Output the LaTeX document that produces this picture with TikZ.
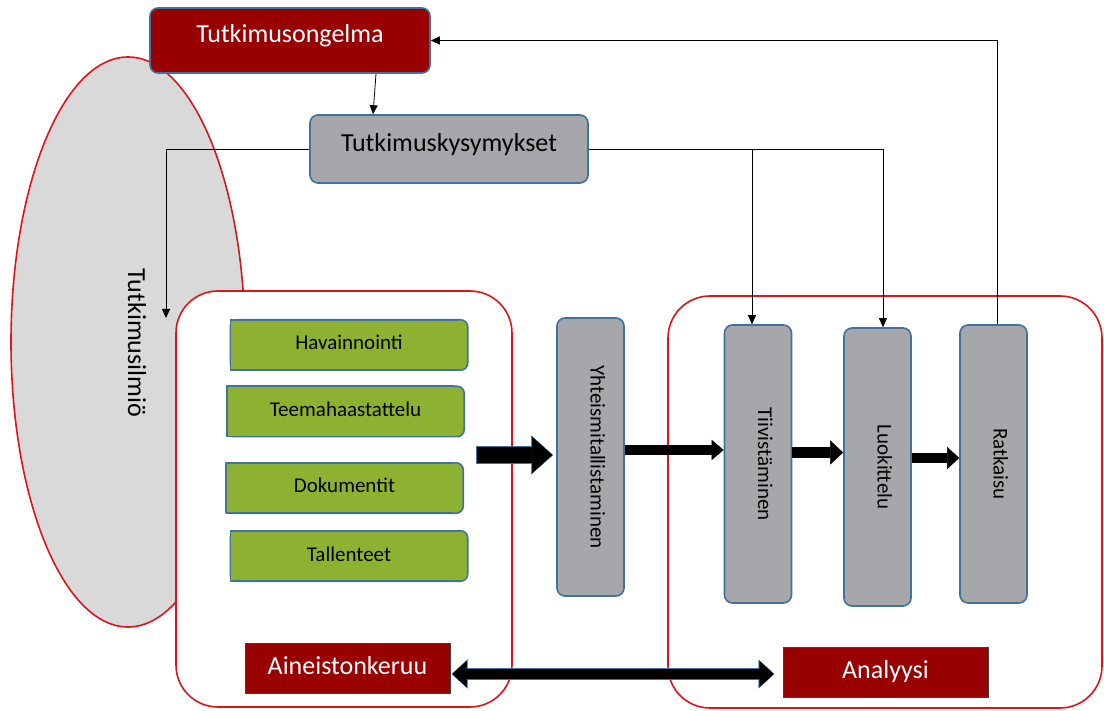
\documentclass[tikz,border=0pt]{standalone}
\usepackage{graphicx}
\usepackage{fontspec}
\setmainfont{Carlito}
\usepackage{tikz}
\usetikzlibrary{arrows.meta, shapes.geometric, positioning, calc, backgrounds}

\definecolor{tutkred}   {RGB}{153, 0,   0}
\definecolor{edgeblue}  {RGB}{65,  113, 156}
\definecolor{stepgray}  {RGB}{166, 167, 171}
\definecolor{methgreen} {RGB}{141, 178, 50}
\definecolor{ilmiogray} {RGB}{217, 217, 217}
\definecolor{grpred}    {RGB}{218, 22,  28}
\definecolor{labeledge} {RGB}{64,  64,  64}

\newcommand{\pysty}[1]{\rotatebox{-90}{\raisebox{0pt}[13pt][13pt]{#1}}}

\begin{document}
\begin{tikzpicture}[x=1pt, y=-1pt,
	ilmio/.style={ellipse, draw=grpred, fill=ilmiogray, line width=1.6pt, inner sep=0pt, minimum width=234pt, minimum height=570pt},
	groupbox/.style={draw=grpred, fill=white, line width=1.6pt, rounded corners=42pt, inner sep=0pt},
	titlebox/.style={draw=edgeblue, line width=1.6pt, rounded corners=8pt, minimum width=280pt, minimum height=65pt, text height=19pt, text depth=14pt, font=\fontsize{26pt}{30pt}\selectfont},
	methodbox/.style={inner sep=0pt, minimum width=237pt, minimum height=50pt, text height=15pt, text depth=5pt, font=\fontsize{21pt}{25pt}\selectfont},
	methodshape/.style={fill=methgreen, draw=edgeblue, line width=1.6pt, line join=round},
	stepbox/.style={draw=edgeblue, fill=stepgray, line width=1.6pt, rounded corners=8pt, inner sep=0pt, minimum width=67pt, minimum height=278pt, font=\fontsize{21pt}{25pt}\selectfont},
	labelbox/.style={draw=labeledge, fill=tutkred, text=white, line width=1pt, inner sep=0pt, minimum width=205pt, minimum height=50pt, text height=17pt, text depth=5pt, font=\fontsize{26pt}{30pt}\selectfont},
	ohut/.style={draw=black, line width=0.8pt, -{Triangle[length=9pt,width=8pt]}},
]
\useasboundingbox (0,0) rectangle (1104,711);

% taustat
\begin{scope}[on background layer]
	\node[ilmio] (ilmio) at (128,342) {};
	\node[groupbox, minimum width=336pt, minimum height=416pt] (keruuala) at (344,499) {};
	\node[groupbox, minimum width=434pt, minimum height=412pt] (analyysiala) at (885,502) {};
\end{scope}
\node[font=\fontsize{26pt}{30pt}\selectfont] (ilmioteksti) at (128,343) {\pysty{Tutkimusilmiö}};

% ongelma ja kysymykset
\node[titlebox, fill=tutkred, text=white] (ongelma) at (290,40.5) {Tutkimusongelma};
\node[titlebox, fill=stepgray, minimum width=278pt, minimum height=68pt] (kysymykset) at (449,149) {Tutkimuskysymykset};

% aineistonkeruun menetelmat
\foreach \nm/\x/\y/\txt in {havainnointi/349/345/Havainnointi, teema/345.5/411.5/Teemahaastattelu, dokumentit/344.5/488/Dokumentit, tallenteet/349/556/Tallenteet}
	\node[methodbox] (\nm) at (\x,\y) {\txt};
\begin{scope}[on background layer]
	\foreach \nm in {havainnointi,teema,dokumentit,tallenteet} {
		\draw[methodshape, rounded corners=7pt] (\nm.south west) rectangle (\nm.north east);
		\draw[methodshape] ([xshift=-10pt]\nm.north east) -- (\nm.north west) -- (\nm.south west) -- ([xshift=-10pt]\nm.south east);
	}
\end{scope}

% analyysin vaiheet
\node[stepbox] (yhteis) at (590.5,457) {\pysty{Yhteismitallistaminen}};
\node[stepbox] (tiivist) at (758,464) {\pysty{Tiivistäminen}};
\node[stepbox] (luokit) at (877.5,467) {\pysty{Luokittelu}};
\node[stepbox] (ratkaisu) at (993.5,464) {\pysty{Ratkaisu}};

\node[labelbox] (aineisto) at (347.5,668) {Aineistonkeruu};
\node[labelbox] (analyysi) at (885.5,672) {Analyysi};

% ohuet nuolet
\coordinate (ilmiokarki) at (166,318);
\draw[ohut] ([xshift=86pt]ongelma.south) -- ([xshift=-76pt]kysymykset.north);
\draw[ohut] (kysymykset.west) -| (ilmiokarki);
\draw[ohut] (kysymykset.east) -| ([xshift=-6pt]tiivist.north);
\draw[ohut] (kysymykset.east) -| ([xshift=5.5pt]luokit.north);
\draw[ohut] ([xshift=3.5pt]ratkaisu.north) |- (ongelma.east);

% paksut nuolet
\draw[edgeblue, line width=18pt, -{Triangle[length=22pt,width=39pt,line width=0.4pt]}] ([xshift=-80pt,yshift=2pt]yhteis.west) -- ([xshift=-3pt,yshift=2pt]yhteis.west);
\draw[black, line width=16pt, -{Triangle[length=20pt,width=36pt,line width=0.4pt]}] ([xshift=-79pt,yshift=2pt]yhteis.west) -- ([xshift=-4pt,yshift=2pt]yhteis.west);
\draw[black, line width=10pt, -{Triangle[length=12pt,width=20pt,line width=0.4pt]}] ([yshift=7pt]yhteis.east) -- ([yshift=14pt]tiivist.west);
\draw[black, line width=11pt, -{Triangle[length=13pt,width=24pt,line width=0.4pt]}] ([yshift=11.5pt]tiivist.east) -- ([yshift=14.5pt]luokit.west);
\draw[black, line width=10pt, -{Triangle[length=12pt,width=22pt,line width=0.4pt]}] ([yshift=9pt]luokit.east) -- ([yshift=6pt]ratkaisu.west);

% keruu <-> analyysi
\draw[edgeblue, line width=12pt, {Triangle[length=16pt,width=29pt,line width=0.4pt]}-{Triangle[length=16pt,width=29pt,line width=0.4pt]}] ([xshift=1pt,yshift=-6pt]aineisto.east) -- ([xshift=-8pt,yshift=-2pt]analyysi.west);
\draw[black, line width=10pt, {Triangle[length=14pt,width=26pt,line width=0.4pt]}-{Triangle[length=14pt,width=26pt,line width=0.4pt]}] ([xshift=2pt,yshift=-6pt]aineisto.east) -- ([xshift=-9pt,yshift=-2pt]analyysi.west);
\end{tikzpicture}
\end{document}
